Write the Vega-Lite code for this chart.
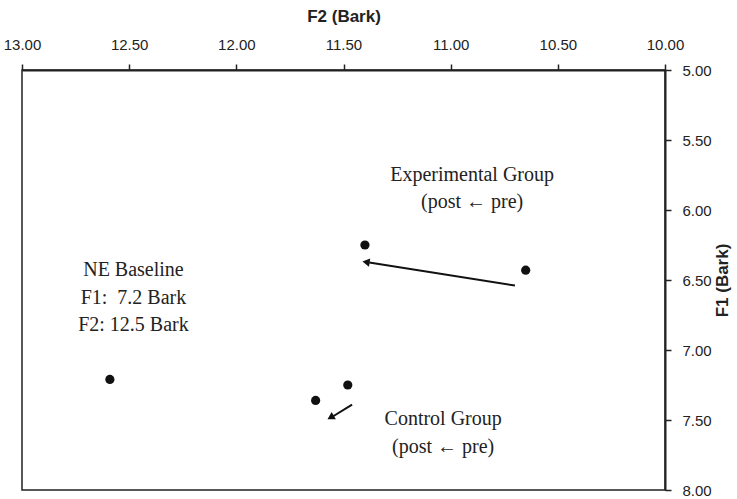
{
  "$schema": "https://vega.github.io/schema/vega-lite/v6.json",
  "width": 643,
  "height": 420,
  "autosize": "none",
  "padding": {"left": 22, "top": 70, "right": 72, "bottom": 9},
  "background": "white",
  "config": {
    "view": {"stroke": "#222", "strokeWidth": 1.5},
    "axis": {"grid": false, "labelFont": "Liberation Sans", "titleFont": "Liberation Sans", "labelColor": "#222", "titleColor": "#222", "domainColor": "#222", "tickColor": "#222"}
  },
  "datasets": {
    "points": [
      {"group": "NE Baseline", "F2": 12.59, "F1": 7.21},
      {"group": "Experimental post", "F2": 11.40, "F1": 6.25},
      {"group": "Experimental pre", "F2": 10.65, "F1": 6.43},
      {"group": "Control pre", "F2": 11.48, "F1": 7.25},
      {"group": "Control post", "F2": 11.63, "F1": 7.36}
    ],
    "arrows": [
      {"group": "Experimental", "F2a": 10.70, "F1a": 6.54, "F2b": 11.38, "F1b": 6.375, "F2t": 11.395, "F1t": 6.372, "angle": 8.6},
      {"group": "Control", "F2a": 11.46, "F1a": 7.39, "F2b": 11.55, "F1b": 7.475, "F2t": 11.56, "F1t": 7.482, "angle": 330}
    ],
    "labels": [
      {"text": "NE Baseline", "F2": 12.48, "F1": 6.43},
      {"text": "F1:\u00a0 7.2 Bark", "F2": 12.48, "F1": 6.625},
      {"text": "F2: 12.5 Bark", "F2": 12.48, "F1": 6.82},
      {"text": "Experimental Group", "F2": 10.90, "F1": 5.75},
      {"text": "(post ← pre)", "F2": 10.90, "F1": 5.94},
      {"text": "Control Group", "F2": 11.035, "F1": 7.49},
      {"text": "(post ← pre)", "F2": 11.035, "F1": 7.69}
    ]
  },
  "layer": [
    {
      "data": {"name": "points"},
      "mark": {"type": "point", "filled": true, "shape": "circle", "size": 85, "color": "#111", "opacity": 1},
      "encoding": {
        "x": {
          "field": "F2", "type": "quantitative",
          "scale": {"domain": [10, 13], "reverse": true, "nice": false, "zero": false},
          "axis": {"orient": "top", "title": "F2 (Bark)", "titleFontSize": 17, "titleFontWeight": "bold", "titlePadding": 12, "labelFontSize": 15, "format": ".2f", "values": [10, 10.5, 11, 11.5, 12, 12.5, 13], "tickSize": 6, "labelPadding": 12, "domainWidth": 2, "tickWidth": 1.5, "labelFlush": false, "labelOverlap": false}
        },
        "y": {
          "field": "F1", "type": "quantitative",
          "scale": {"domain": [5, 8], "reverse": true, "nice": false, "zero": false},
          "axis": {"orient": "right", "title": "F1 (Bark)", "titleFontSize": 17, "titleFontWeight": "bold", "titleAngle": 270, "titlePadding": 20, "labelFontSize": 15, "format": ".2f", "values": [5, 5.5, 6, 6.5, 7, 7.5, 8], "tickSize": 6, "labelPadding": 11, "domainWidth": 2, "tickWidth": 1.5, "labelFlush": false, "labelOverlap": false}
        }
      }
    },
    {
      "data": {"name": "arrows"},
      "mark": {"type": "rule", "color": "#111", "strokeWidth": 2},
      "encoding": {
        "x": {"field": "F2a", "type": "quantitative"},
        "y": {"field": "F1a", "type": "quantitative"},
        "x2": {"field": "F2b"},
        "y2": {"field": "F1b"}
      }
    },
    {
      "data": {"name": "arrows"},
      "mark": {"type": "point", "shape": "triangle-left", "filled": true, "size": 70, "color": "#111", "opacity": 1},
      "encoding": {
        "x": {"field": "F2t", "type": "quantitative"},
        "y": {"field": "F1t", "type": "quantitative"},
        "angle": {"field": "angle", "type": "quantitative", "scale": null}
      }
    },
    {
      "data": {"name": "labels"},
      "mark": {"type": "text", "font": "Liberation Serif", "fontSize": 20, "color": "#222", "align": "center", "baseline": "middle"},
      "encoding": {
        "x": {"field": "F2", "type": "quantitative"},
        "y": {"field": "F1", "type": "quantitative"},
        "text": {"field": "text"}
      }
    }
  ]
}
